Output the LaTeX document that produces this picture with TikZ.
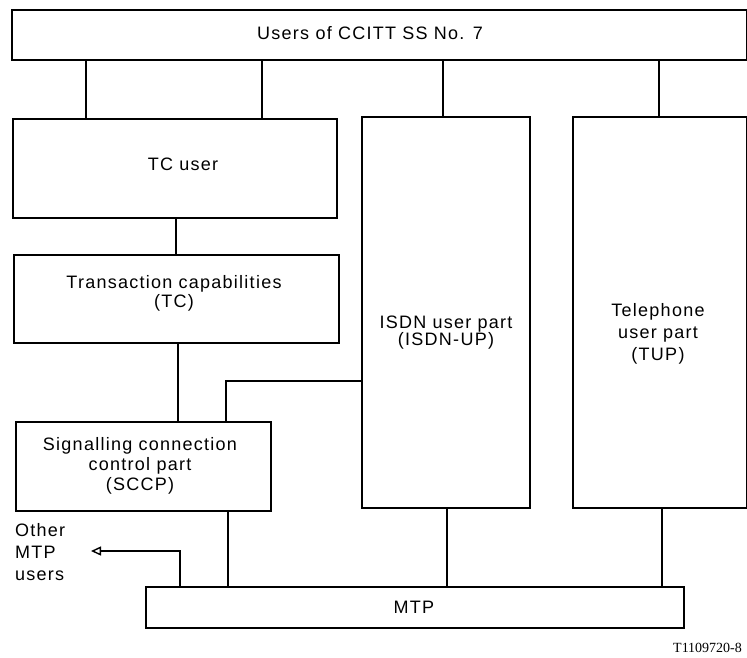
\documentclass[tikz,border=0pt]{standalone}
\usepackage{fontspec}
\setmainfont{Liberation Sans}[LetterSpace=7]
\newfontfamily\serfont{Liberation Serif}
\usetikzlibrary{arrows.meta}
\tikzset{
  box/.style={draw, line width=1.6pt, rectangle, inner sep=0pt, anchor=north west, align=center,
              font=\fontsize{18}{20}\selectfont},
  lbl/.style={inner sep=0pt, align=center},
  conn/.style={line width=1.1pt},
}
\begin{document}
\begin{tikzpicture}[x=1pt,y=-1pt]
\useasboundingbox (0,0) rectangle (747,657);
% boxes
\node[box, minimum width=735pt, minimum height=50pt] (top) at (11,9) {};
\node[lbl, font=\fontsize{18}{20}\selectfont] (topt) at (370,33) {Users of CCITT SS No. 7};
\node[box, minimum width=324pt, minimum height=99pt] (tcu) at (12,118) {};
\node[lbl, font=\fontsize{18}{20}\selectfont] (tcut) at (183,164) {TC user};
\node[box, minimum width=325pt, minimum height=88pt] (tc) at (13,254) {};
\node[lbl, font=\fontsize{18}{19}\selectfont] (tct) at (174,293) {Transaction capabilities\\(TC)};
\node[box, minimum width=255pt, minimum height=89pt] (sccp) at (15,421) {};
\node[lbl, font=\fontsize{18}{20}\selectfont] (sccpt) at (140,466) {Signalling connection\\control part\\(SCCP)};
\node[box, minimum width=168pt, minimum height=391pt] (isdn) at (361,116) {};
\node[lbl, font=\fontsize{18}{17}\selectfont] (isdnt) at (446,333) {ISDN user part\\(ISDN-UP)};
\node[box, minimum width=174pt, minimum height=391pt] (tup) at (572,116) {};
\node[lbl, font=\fontsize{18}{22}\selectfont] (tupt) at (658,334) {Telephone\\user part\\(TUP)};
\node[box, minimum width=538pt, minimum height=41pt] (mtp) at (145,586) {};
\node[lbl, font=\fontsize{18}{20}\selectfont] (mtpt) at (414,607) {MTP};
\node[lbl, align=left, anchor=west, font=\fontsize{18}{22}\selectfont] (oth) at (15,552) {Other\\MTP\\users};
\node[inner sep=0pt, anchor=base west, font=\serfont\fontsize{14}{15}\selectfont] (fig) at (673,652) {T1109720-8};
% helper coordinates
\coordinate (c86) at (86,0);
\coordinate (c262) at (262,0);
\coordinate (c443) at (443,0);
\coordinate (c659) at (659,0);
\coordinate (c176) at (176,0);
\coordinate (c178) at (178,0);
\coordinate (c228) at (228,0);
\coordinate (c447) at (447,0);
\coordinate (c662) at (662,0);
\coordinate (j) at (226,381);
\coordinate (k) at (180,551);
\coordinate (tip) at (91,551);
% connectors
\draw[conn] (top.south -| c86) -- (tcu.north -| c86);
\draw[conn] (top.south -| c262) -- (tcu.north -| c262);
\draw[conn] (top.south -| c443) -- (isdn.north -| c443);
\draw[conn] (top.south -| c659) -- (tup.north -| c659);
\draw[conn] (tcu.south -| c176) -- (tc.north -| c176);
\draw[conn] (tc.south -| c178) -- (sccp.north -| c178);
\draw[conn] (isdn.west |- j) -- (j) -- (sccp.north -| j);
\draw[conn] (sccp.south -| c228) -- (mtp.north -| c228);
\draw[conn] (isdn.south -| c447) -- (mtp.north -| c447);
\draw[conn] (tup.south -| c662) -- (mtp.north -| c662);
\draw[conn, -{Triangle[open, length=10pt, width=9pt, line width=1.4pt]}] (mtp.north -| k) -- (k) -- (tip);
\end{tikzpicture}
\end{document}
